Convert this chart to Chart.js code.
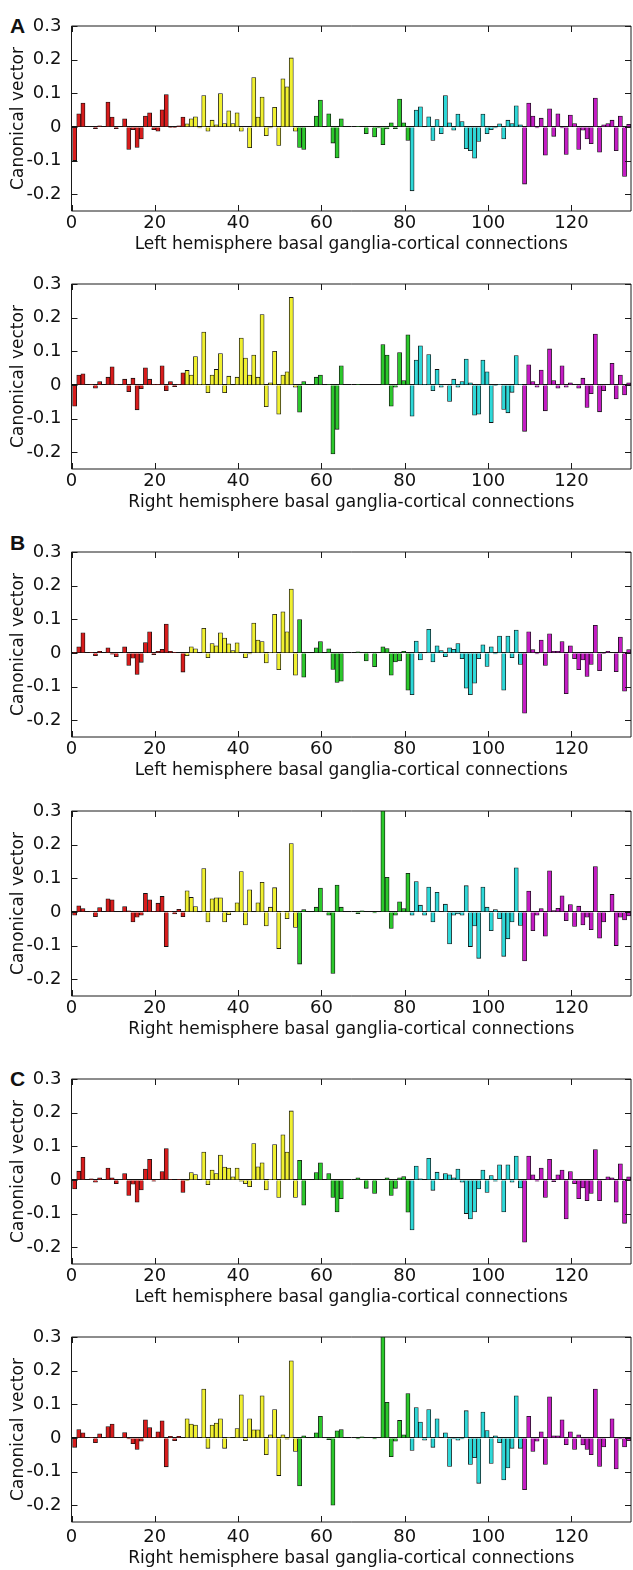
<!DOCTYPE html>
<html><head><meta charset="utf-8">
<script src="https://cdn.jsdelivr.net/npm/chart.js@4"></script>
<style>
html,body{margin:0;padding:0;background:#fff;width:633px;height:1570px;overflow:hidden;position:relative;}
canvas.panel{position:absolute;left:0;}
.letter{position:absolute;left:10px;font:bold 21px "Liberation Sans",Arial,sans-serif;color:#111;line-height:24px;}
</style></head><body>
<div class="letter" style="top:14px">A</div>
<div class="letter" style="top:531px">B</div>
<div class="letter" style="top:1067px">C</div>
<script>
// ---- data ----
const leftA = [-0.10,0.039,0.071,0,0,-0.005,0.003,0,0.074,0.029,-0.005,0,0.024,-0.067,-0.008,-0.061,-0.036,0.032,0.042,-0.008,-0.013,0.051,0.096,-0.002,-0.002,0.003,0.029,
0.009,0.024,0.030,-0.003,0.093,-0.013,0.020,0.006,0.099,0.010,0.048,0.010,0.042,-0.013,0,-0.062,0.147,0.029,0.089,-0.026,-0.003,0.058,-0.055,0.143,0.119,0.205,-0.013,
-0.061,-0.067,0,0,0.032,0.080,0,0.039,-0.048,-0.092,0.024,0,0,0,0.002,0,-0.020,0,-0.030,-0.003,-0.053,-0.006,0.012,-0.005,0.083,0.012,-0.040,
-0.190,0.050,0.060,0,0.030,-0.040,0.022,-0.020,0.093,0.012,-0.010,0.038,0.016,-0.065,-0.071,-0.093,-0.043,0.038,-0.020,-0.008,-0.003,0.009,-0.036,0.020,0.010,0.063,0.006,
-0.170,0.071,0.032,-0.003,0.026,-0.084,0.054,-0.028,0.039,-0.003,-0.082,0.035,0.010,-0.067,-0.010,-0.036,-0.050,0.086,-0.075,0.006,0.010,0.020,-0.071,0.032,-0.147,0.008];
const rightA = [-0.063,0.029,0.033,0,0.002,-0.010,0.010,0,0.023,0.054,0.002,0,0.017,-0.020,0.020,-0.074,-0.011,0.051,0.017,0.002,0.002,0.057,-0.017,0.010,-0.005,0.002,0.036,
0.043,0.029,0.084,0.002,0.157,-0.023,0.029,0.046,0.093,-0.023,0.026,0,0.023,0.139,0.080,0.029,0.089,0.023,0.209,-0.065,0.006,0.100,-0.087,0.029,0.039,0.260,-0.007,
-0.081,0.010,0,0,0.023,0.029,0,0.002,-0.205,-0.132,0.057,0,0,0,0.002,0,0,0,0,0,0.120,0.089,-0.063,-0.007,0.096,0.013,0.149,
-0.093,0.074,0.116,0.002,0.090,-0.017,0.046,-0.007,0,-0.049,0.017,-0.007,0.010,0.077,0.006,-0.090,-0.087,0.074,0.039,-0.112,-0.002,0.002,-0.073,-0.083,-0.022,0.087,0.002,
-0.138,0.060,0.010,-0.007,0.044,-0.077,0.107,0.013,-0.010,0.057,-0.007,0.006,0,-0.010,0.020,-0.067,-0.026,0.151,-0.080,-0.017,0,0.064,-0.042,0.029,-0.030,0.006];
const leftB = [0.002,0.018,0.060,0,0.002,-0.008,0.005,0,0.015,-0.004,-0.011,0,0.018,-0.037,-0.016,-0.064,-0.028,0.031,0.063,-0.005,0.005,0.011,0.086,0.005,0.002,0,-0.057,
-0.008,0.018,0.012,0,0.073,-0.014,0.028,0.021,0.060,0.044,0.027,0.007,0.030,0,-0.014,-0.003,0.089,0.038,0.034,-0.030,0.002,0.115,-0.050,0.122,0.063,0.190,-0.066,
0.099,-0.072,0,0,0.015,0.034,0,0.012,-0.049,-0.088,-0.084,0,0,0,0.003,0,-0.024,0,-0.041,0,0.018,0.013,-0.066,-0.027,-0.024,0.005,-0.111,
-0.124,0.035,-0.021,0,0.070,-0.027,0.021,0.007,-0.011,0.015,0.011,0.028,-0.017,-0.105,-0.124,-0.090,-0.017,0.024,-0.040,0.018,-0.003,0.050,-0.111,0.050,-0.014,0.068,-0.034,
-0.179,0.063,0.010,-0.003,0.038,-0.037,0.057,0.005,0.005,0.034,-0.121,0.021,-0.017,-0.050,-0.021,-0.070,-0.034,0.082,-0.053,-0.002,0.005,0,-0.056,0.047,-0.114,0.010];
const rightB = [-0.010,0.018,0.010,0,0.002,-0.014,0.013,0,0.039,0.036,0,0,0.016,0.003,-0.030,-0.016,-0.010,0.055,0.036,0.002,0.026,0.046,-0.103,0.002,-0.006,0.008,-0.014,
0.063,0.043,0.016,0,0.129,-0.030,0.039,0.042,0.042,-0.030,-0.008,0,0.027,0.120,-0.039,0.066,0,0.027,0.088,-0.042,0.014,0.072,-0.109,0.002,-0.020,0.203,-0.046,
-0.155,0.007,0,0,0.014,0.071,0,-0.010,-0.183,0.080,0.014,0,0,0,-0.005,0.003,0,0,-0.003,0,0.310,0.103,-0.049,-0.010,0.030,0.010,0.115,
-0.010,0.090,0.020,-0.010,0.074,-0.030,0.058,0,0.023,-0.095,-0.010,-0.006,-0.010,0.078,-0.103,-0.042,-0.138,0.074,0.014,-0.056,0.007,-0.020,-0.132,-0.080,-0.030,0.131,-0.040,
-0.146,0.062,-0.056,-0.010,0.010,-0.072,0.122,0.004,0.011,0.048,-0.026,0.022,-0.043,0.017,-0.039,-0.016,-0.053,0.135,-0.078,-0.030,0,0.052,-0.100,-0.016,-0.024,-0.012];
const leftC = [-0.027,0.026,0.067,0,0.003,-0.007,0.006,0,0.035,0.006,-0.011,0,0.019,-0.046,-0.013,-0.066,-0.030,0.032,0.061,-0.004,0,0.025,0.093,0.002,0,0.002,-0.037,
-0.002,0.022,0.016,0,0.083,-0.014,0.029,0.019,0.074,0.038,0.035,0.009,0.035,-0.004,-0.011,-0.020,0.108,0.039,0.051,-0.030,0.002,0.105,-0.052,0.134,0.083,0.205,-0.052,
0.058,-0.075,0,0,0.022,0.051,0,0.019,-0.052,-0.095,-0.056,0,0,0,0.006,0,-0.025,0,-0.040,0,0,0.006,-0.046,-0.025,0.006,0.010,-0.096,
-0.149,0.041,0.003,0,0.064,-0.031,0.023,0,0.019,0.015,0.006,0.032,-0.007,-0.100,-0.116,-0.095,-0.027,0.029,-0.037,0.013,-0.004,0.045,-0.095,0.045,-0.007,0.071,-0.024,
-0.185,0.071,0.015,-0.004,0.035,-0.052,0.061,-0.005,0.015,0.029,-0.116,0.025,-0.011,-0.056,-0.024,-0.062,-0.040,0.090,-0.062,0,0.009,0.006,-0.066,0.048,-0.129,0.009];
const rightC = [-0.028,0.025,0.015,0,0.002,-0.014,0.012,0,0.034,0.041,0,0,0.016,-0.003,-0.017,-0.034,-0.010,0.054,0.031,0.002,0.018,0.051,-0.086,0.005,-0.008,0.005,0,
0.057,0.041,0.038,0,0.145,-0.031,0.038,0.044,0.057,-0.031,0.002,0,0.028,0.128,-0.008,0.057,0.024,0.024,0.125,-0.050,0.009,0.084,-0.112,0.009,-0.004,0.229,-0.040,
-0.143,0.006,0,0,0.015,0.064,0,-0.005,-0.200,0.021,0.025,0,0,0,-0.003,0.003,0,0,-0.003,0,0.310,0.106,-0.056,-0.010,0.052,0.009,0.132,
-0.037,0.090,0.047,-0.007,0.084,-0.028,0.057,0,0.015,-0.085,-0.003,-0.007,-0.003,0.081,-0.079,-0.059,-0.135,0.077,0.022,-0.076,0.006,-0.014,-0.125,-0.089,-0.031,0.125,-0.031,
-0.154,0.064,-0.040,-0.010,0.018,-0.079,0.122,0.006,0.006,0.054,-0.020,0.018,-0.034,0.009,-0.021,-0.034,-0.050,0.145,-0.085,-0.027,0,0.057,-0.092,-0.003,-0.027,-0.008];

const groupColors = ['#d81c1c','#f0f030','#2cc82c','#2ed8d8','#c41cc4']; // 27 connections per region
const groupSize = 27;
const xTicks = [0,20,40,60,80,100,120];
const yTicks = [-0.2,-0.1,0,0.1,0.2,0.3];
const yTickLabels = ['-0.2','-0.1','0','0.1','0.2','0.3'];
const xTitles = ['Left hemisphere basal ganglia-cortical connections','Right hemisphere basal ganglia-cortical connections'];

const panels = [
  {vals:leftA, title:xTitles[0], top:0, tp:2, ttl:4},
  {vals:rightA, title:xTitles[1], top:258, tp:2, ttl:4},
  {vals:leftB, title:xTitles[0], top:526, tp:2, ttl:4},
  {vals:rightB, title:xTitles[1], top:785, tp:2, ttl:4},
  {vals:leftC, title:xTitles[0], top:1053, tp:2, ttl:4},
  {vals:rightC, title:xTitles[1], top:1311, tp:5, ttl:1}
];

const FONT = 'DejaVu Sans';
const frame = {
  id:'frame',
  afterDatasetsDraw(chart){
    const {ctx, chartArea:a, scales:{x,y}} = chart;
    ctx.save();
    ctx.strokeStyle = '#1a1a1a';
    ctx.lineWidth = 1;
    ctx.beginPath();
    ctx.rect(a.left, a.top, a.right-a.left, a.bottom-a.top);
    const L = 6;
    x.ticks.forEach(t=>{
      const px = Math.round(x.getPixelForValue(t.value))+0.5;
      ctx.moveTo(px, a.bottom); ctx.lineTo(px, a.bottom-L);
      ctx.moveTo(px, a.top); ctx.lineTo(px, a.top+L);
    });
    y.ticks.forEach(t=>{
      const py = Math.round(y.getPixelForValue(t.value))+0.5;
      ctx.moveTo(a.left, py); ctx.lineTo(a.left+L, py);
      ctx.moveTo(a.right, py); ctx.lineTo(a.right-L, py);
    });
    ctx.stroke();
    ctx.restore();
  }
};

panels.forEach((p,i)=>{
  const cv = document.createElement('canvas');
  cv.className='panel'; cv.width=633; cv.height=259;
  cv.style.top = p.top+'px'; cv.style.width='633px'; cv.style.height='259px';
  document.body.appendChild(cv);
  new Chart(cv, {
    type:'bar',
    data:{datasets:[{
      data:p.vals.map((v,k)=>({x:k+0.75, y:v})),
      backgroundColor:p.vals.map((v,k)=>groupColors[Math.min(4,Math.floor(k/groupSize))]),
      borderColor:'#111', borderWidth:0.8,
      barThickness:4.1
    }]},
    options:{
      responsive:false, animation:false, devicePixelRatio:1,
      layout:{padding:{top:26,right:2,bottom:0,left:0}},
      plugins:{legend:{display:false}, tooltip:{enabled:false}},
      scales:{
        x:{type:'linear', min:0, max:134.3, offset:false,
          afterBuildTicks(s){ s.ticks = xTicks.map(v=>({value:v})); },
          afterFit(s){ s.height = 48; },
          grid:{display:false, drawTicks:false, offset:false}, border:{display:false},
          ticks:{color:'#111', font:{family:FONT,size:18}, padding:p.tp, maxRotation:0, autoSkip:false,
                 callback:(v)=>String(v)},
          title:{display:true, text:p.title, color:'#111', font:{family:FONT,size:17}, padding:{top:0,bottom:p.ttl}}
        },
        y:{min:-0.25, max:0.3,
          afterBuildTicks(s){ s.ticks = yTicks.map(v=>({value:v})); },
          afterFit(s){ s.width = 71.5; },
          grid:{drawTicks:false, color:(c)=> (c.tick && c.tick.value===0) ? '#111' : 'rgba(0,0,0,0)', lineWidth:1},
          border:{display:false},
          ticks:{color:'#111', font:{family:FONT,size:18}, padding:10, autoSkip:false,
                 callback:(v,idx)=>yTickLabels[idx]},
          title:{display:true, text:'Canonical vector', color:'#111', font:{family:FONT,size:17}, padding:{top:8,bottom:0}}
        }
      }
    },
    plugins:[frame]
  });
});
</script>
</body></html>
